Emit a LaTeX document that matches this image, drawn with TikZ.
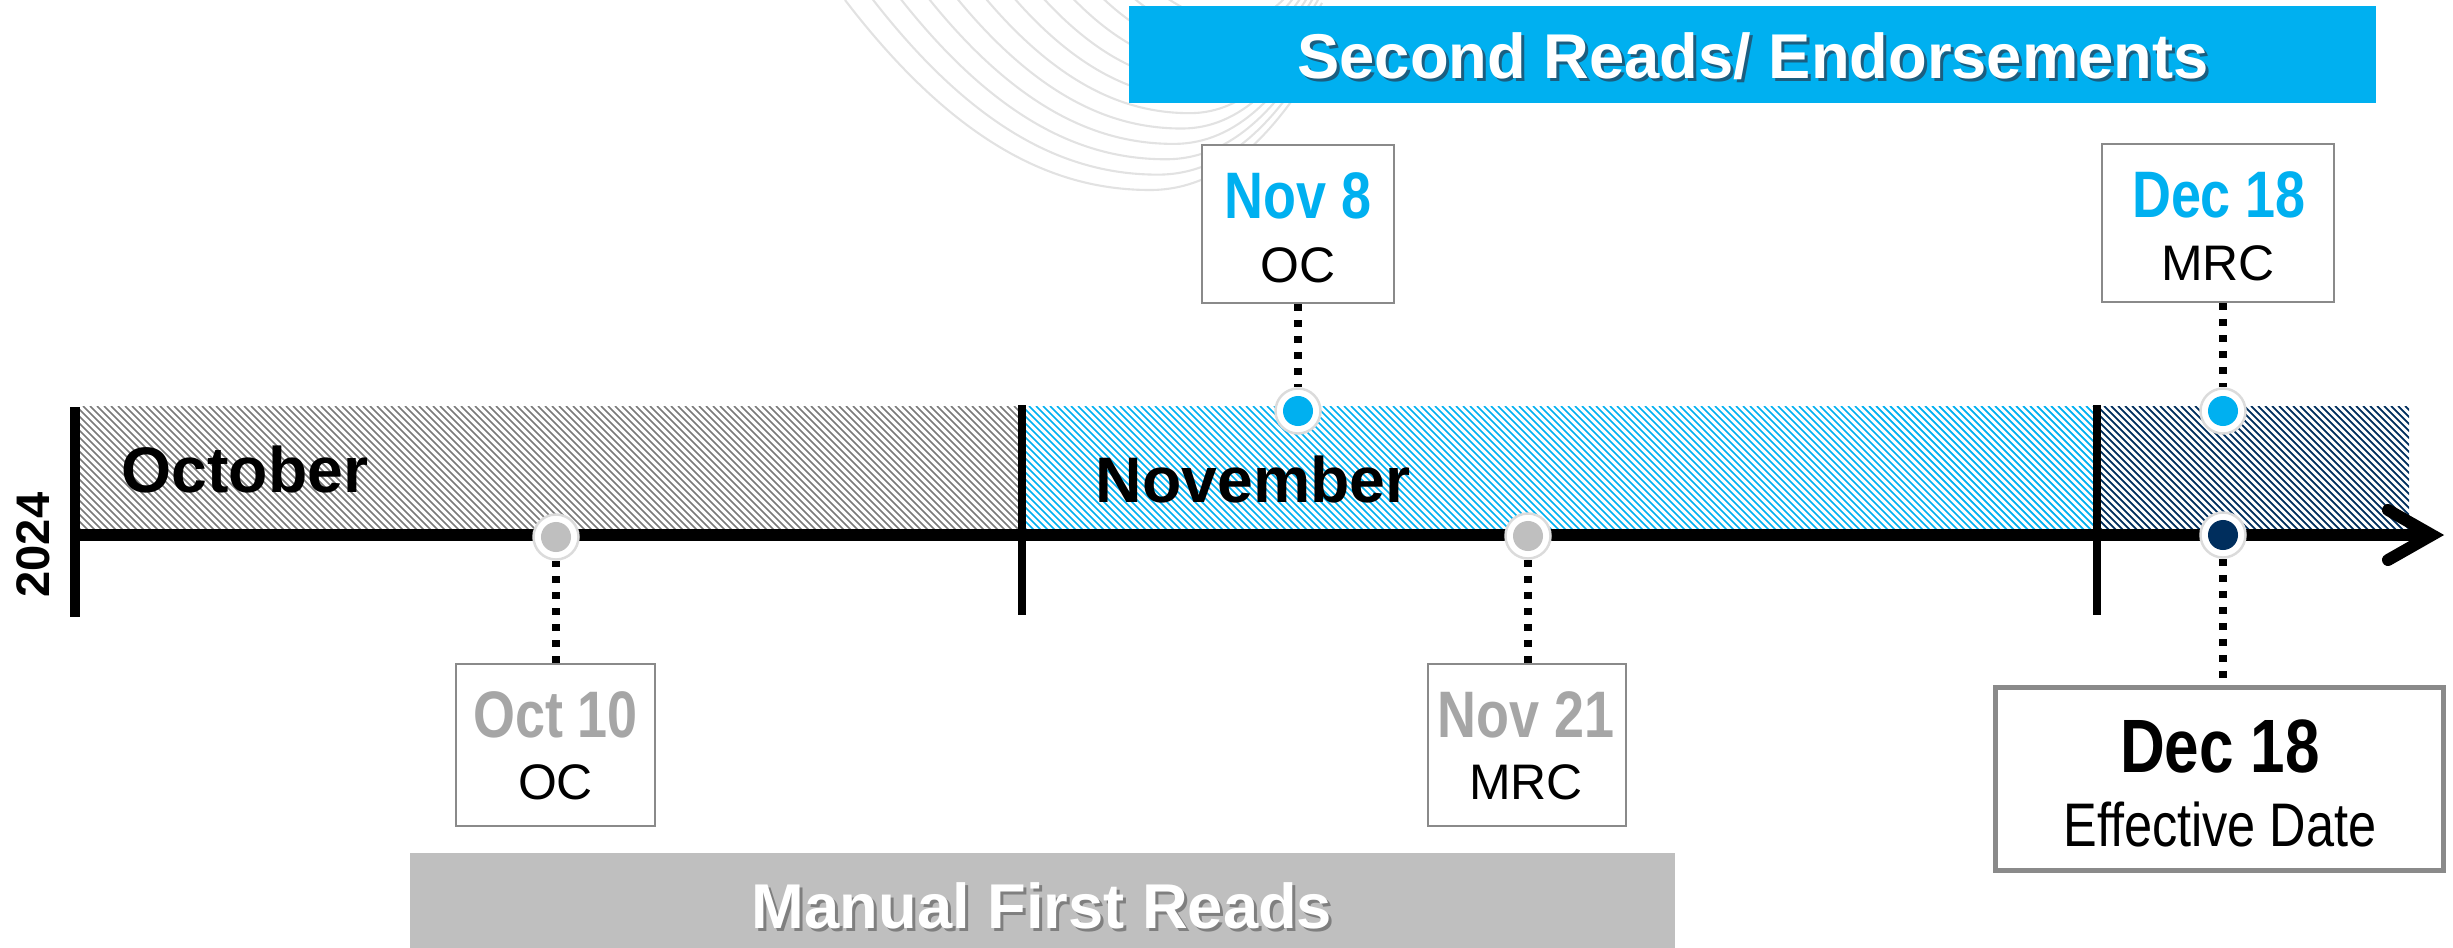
\documentclass[tikz,border=0pt]{standalone}
\usepackage{fontspec}
\setmainfont{Liberation Sans}
\newfontfamily\narrowfont[FakeStretch=0.82]{Liberation Sans}
\definecolor{cblue}{HTML}{00B0F0}
\definecolor{cnavy}{HTML}{002E5D}
\definecolor{cgrayfill}{HTML}{BFBFBF}
\definecolor{cgraytext}{HTML}{A6A6A6}
\definecolor{cborder}{HTML}{8A8A8A}
\definecolor{chatchgray}{HTML}{7A7A7A}
\definecolor{cshadowblue}{HTML}{1B5E80}
\definecolor{cshadowgray}{HTML}{7F7F7F}
\definecolor{cswirl}{HTML}{E2E2E2}
\begin{document}
\begin{tikzpicture}[x=0.01cm,y=-0.01cm,
  hatchln/.style={line width=0.5pt},
  barln/.style={line width=#1, line cap=butt},
  axisln/.style={line width=3.4pt},
  ring/.style={circle, fill=white, draw=black!14, line width=0.7pt, minimum size=0.45cm, inner sep=0pt},
  core/.style={circle, minimum size=0.30cm, inner sep=0pt},
  datebox/.style={draw=cborder, fill=white, line width=0.75pt, inner sep=0pt},
  ttl/.style={anchor=base, inner sep=0pt, font=\narrowfont\bfseries\fontsize{18.7}{20}\selectfont},
  subtxt/.style={anchor=base, inner sep=0pt, font=\fontsize{14.2}{16}\selectfont},
  month/.style={anchor=base west, inner sep=0pt, font=\bfseries\fontsize{18.3}{20}\selectfont},
  bannertxt/.style={anchor=base, inner sep=0pt, font=\bfseries\fontsize{18}{20}\selectfont},
  dotln/.style={line width=0.08cm, dash pattern=on 0.07cm off 0.09cm},
  swirl/.style={draw=cswirl, line width=0.6pt}
]
\useasboundingbox (0,0) rectangle (2453,948);

% faint background swirl
\foreach \i in {0,...,11} {
  \pgfmathsetmacro\s{1-0.053*\i}
  \draw[swirl] ({1300+(845-1300)*\s},{-100+(0+100)*\s})
     .. controls ({1300+(960-1300)*\s},{-100+(150+100)*\s}) and ({1300+(1060-1300)*\s},{-100+(190+100)*\s})
     .. ({1300+(1150-1300)*\s},{-100+(190+100)*\s})
     .. controls ({1300+(1225-1300)*\s},{-100+(190+100)*\s}) and ({1300+(1280-1300)*\s},{-100+(130+100)*\s})
     .. ({1300+(1330-1300)*\s},{-100+(40+100)*\s});
}

% hatched month bands
\begin{scope}
  \clip (80,406) rectangle (1018,529);
  \foreach \k in {0,...,160} { \draw[hatchln, chatchgray] ({-50+7*\k},406) -- ++(124,124); }
\end{scope}
\begin{scope}
  \clip (1026,406) rectangle (2093,529);
  \foreach \k in {0,...,176} { \draw[hatchln, cblue] ({896+7*\k},406) -- ++(124,124); }
\end{scope}
\begin{scope}
  \clip (2101,406) rectangle (2409,529);
  \foreach \k in {0,...,64} { \draw[hatchln, cnavy] ({1971+7*\k},406) -- ++(124,124); }
\end{scope}

% month labels and year
\node[month] (oct) at (121,492) {October};
\node[month] (nov) at (1095,502) {November};
\node[rotate=90, inner sep=0pt, font=\bfseries\fontsize{13.4}{15}\selectfont] (year) at (33,545) {2024};

% axis, dividers, arrow
\coordinate (axL) at (70,535);
\coordinate (axR) at (2432,535);
\draw[axisln] (axL) -- (axR);
\draw[axisln, line cap=round, line join=miter] (2388,510) -- (axR) -- (2388,560);
\draw[barln=3pt] (75,407) -- (75,617);
\draw[barln=2.3pt] (1022,405) -- (1022,615);
\draw[barln=2.3pt] (2097,405) -- (2097,615);

% banners
\node[fill=cblue, minimum width=12.47cm, minimum height=0.97cm, inner sep=0pt] (secbanner) at (1752.5,54.5) {};
\node[bannertxt, text=cshadowblue] (secshadow) at (1756,81) {Second Reads/ Endorsements};
\node[bannertxt, text=white] (sectext) at (1753,78) {Second Reads/ Endorsements};
\node[fill=cgrayfill, minimum width=12.65cm, minimum height=0.95cm, inner sep=0pt] (firstbanner) at (1042.5,900.5) {};
\node[bannertxt, text=cshadowgray] (firstshadow) at (1045,931) {Manual First Reads};
\node[bannertxt, text=white] (firsttext) at (1042,928) {Manual First Reads};

% timeline points
\node[ring] (p1) at (556,537) {};
\node[core, fill=cgrayfill] (p1c) at (p1) {};
\node[ring] (p2) at (1298,411) {};
\node[core, fill=cblue] (p2c) at (p2) {};
\node[ring] (p3) at (1528,536) {};
\node[core, fill=cgrayfill] (p3c) at (p3) {};
\node[ring] (p4) at (2223,411) {};
\node[core, fill=cblue] (p4c) at (p4) {};
\node[ring] (p5) at (2223,535) {};
\node[core, fill=cnavy] (p5c) at (p5) {};

% date boxes
\node[datebox, minimum width=1.99cm, minimum height=1.62cm] (b1) at (555.5,745) {};
\node[ttl, text=cgraytext] (b1t) at (555.5,737) {Oct 10};
\node[subtxt] (b1s) at (555.5,799) {OC};

\node[datebox, minimum width=1.92cm, minimum height=1.58cm] (b2) at (1298,224) {};
\node[ttl, text=cblue] (b2t) at (1298,218) {Nov 8};
\node[subtxt] (b2s) at (1298,282) {OC};

\node[datebox, minimum width=1.98cm, minimum height=1.62cm] (b3) at (1527,745) {};
\node[ttl, text=cgraytext] (b3t) at (1526,737) {Nov 21};
\node[subtxt] (b3s) at (1526,799) {MRC};

\node[datebox, minimum width=2.32cm, minimum height=1.58cm] (b4) at (2218,223) {};
\node[ttl, text=cblue] (b4t) at (2219,217) {Dec 18};
\node[subtxt] (b4s) at (2218,280) {MRC};

\node[datebox, line width=1.4pt, minimum width=4.47cm, minimum height=1.82cm] (b5) at (2219.5,779) {};
\node[anchor=base, inner sep=0pt, font=\narrowfont\bfseries\fontsize{21.5}{24}\selectfont] (b5t) at (2220,772) {Dec 18};
\node[anchor=base, inner sep=0pt, font=\narrowfont\fontsize{17.5}{20}\selectfont] (b5s) at (2220,846) {Effective Date};

% dotted connectors
\draw[dotln] (b1.north -| p1) -- (p1.south);
\draw[dotln] (b2.south -| p2) -- (p2.north);
\draw[dotln] (p3.south) -- (p3.south |- b3.north);
\draw[dotln] (b4.south -| p4) -- (p4.north);
\draw[dotln] (p5.south) -- (p5.south |- b5.north);
\end{tikzpicture}
\end{document}
